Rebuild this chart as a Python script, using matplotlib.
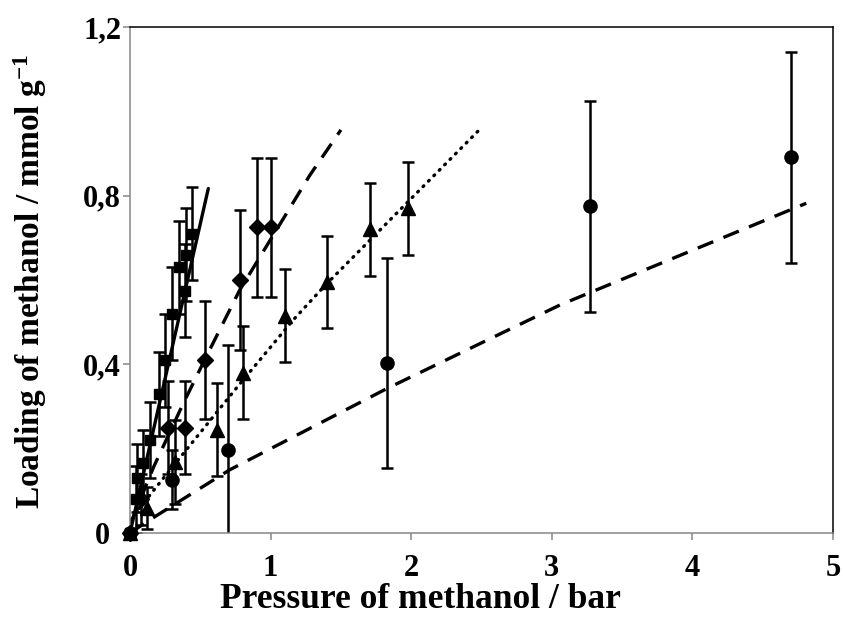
import matplotlib
matplotlib.use("Agg")
import matplotlib.pyplot as plt

# squares (solid fit)
sq_p = [0, 0.04, 0.05, 0.095, 0.14, 0.205, 0.25, 0.30, 0.345, 0.39, 0.40, 0.44]
sq_q = [0, 0.08, 0.13, 0.165, 0.22, 0.33, 0.41, 0.52, 0.63, 0.575, 0.66, 0.71]
sq_err = [0, 0.08, 0.08, 0.08, 0.09, 0.10, 0.11, 0.11, 0.11, 0.11, 0.11, 0.11]
sq_fit_p = [0, 0.557]
sq_fit_q = [0, 0.817]

# diamonds (dashed fit)
di_p = [0, 0.08, 0.27, 0.39, 0.535, 0.78, 0.90, 1.0]
di_q = [0, 0.08, 0.25, 0.25, 0.41, 0.60, 0.725, 0.725]
di_err = [0, 0.06, 0.11, 0.11, 0.14, 0.165, 0.165, 0.165]
di_fit_p = [0, 0.17, 0.38, 0.53, 0.78, 1.28, 1.50]
di_fit_q = [0.02, 0.158, 0.308, 0.41, 0.576, 0.849, 0.956]

# triangles (dotted fit)
tr_p = [0, 0.12, 0.32, 0.62, 0.805, 1.10, 1.40, 1.71, 1.98]
tr_q = [0, 0.06, 0.168, 0.245, 0.38, 0.515, 0.595, 0.72, 0.77]
tr_err = [0, 0.05, 0.10, 0.11, 0.11, 0.11, 0.11, 0.11, 0.11]
tr_fit_p = [0, 0.17, 0.40, 0.76, 1.16, 1.39, 2.49]
tr_fit_q = [0.03, 0.102, 0.197, 0.345, 0.505, 0.588, 0.958]

# circles (dashed fit)
ci_p = [0, 0.30, 0.70, 1.83, 3.27, 4.70]
ci_q = [0, 0.126, 0.197, 0.403, 0.775, 0.891]
ci_err = [0, 0.07, 0.25, 0.25, 0.25, 0.25]
ci_fit_p = [0, 0.14, 0.71, 1.83, 3.06, 4.81]
ci_fit_q = [0, 0.031, 0.150, 0.343, 0.541, 0.782]

xticks = [0, 1, 2, 3, 4, 5]
yticks = [0, 0.4, 0.8, 1.2]
ytick_labels = ["0", "0,4", "0,8", "1,2"]

plt.rcParams["font.family"] = ["Liberation Serif", "DejaVu Serif"]
plt.rcParams["font.weight"] = "bold"
plt.rcParams["mathtext.fontset"] = "custom"
plt.rcParams["mathtext.rm"] = "Liberation Serif:bold"
plt.rcParams["mathtext.bf"] = "Liberation Serif:bold"
plt.rcParams["mathtext.it"] = "Liberation Serif:bold"

fig = plt.figure(figsize=(8.43, 6.28), dpi=100)
ax = fig.add_axes([130 / 843, 95 / 628, 703 / 843, 506 / 628])

dash = (0, (5, 3.3))
ax.plot(sq_fit_p, sq_fit_q, color="black", lw=2.4, solid_capstyle="round")
ax.plot(di_fit_p, di_fit_q, color="black", lw=2.4, linestyle=dash)
ax.plot(tr_fit_p, tr_fit_q, color="black", lw=2.4, linestyle=(0, (0.3, 2.0)),
        dash_capstyle="round")
ax.plot(ci_fit_p, ci_fit_q, color="black", lw=2.4, linestyle=dash)

series = [
    (sq_p, sq_q, sq_err, "s", 7.5),
    (di_p, di_q, di_err, "D", 8),
    (tr_p, tr_q, tr_err, "^", 10),
    (ci_p, ci_q, ci_err, "o", 9.5),
]
for p, q, err, mk, ms in series:
    ax.errorbar(p, q, yerr=err, fmt="none", ecolor="black", elinewidth=1.8,
                capsize=4.5, capthick=1.8)
    ax.plot(p, q, linestyle="none", marker=mk, markersize=ms, color="black",
            clip_on=False, zorder=3)

ax.set_xlim(0, 5)
ax.set_ylim(0, 1.2)
ax.set_xticks(xticks)
ax.set_xticklabels([str(t) for t in xticks])
ax.set_yticks(yticks)
ax.set_yticklabels(ytick_labels, ha="center")
ax.tick_params(axis="both", direction="out", length=5, width=1.1, color="#868686",
               labelsize=22)
ax.tick_params(axis="x", pad=10)
ax.tick_params(axis="y", pad=15)

ax.spines["left"].set_color("#868686")
ax.spines["bottom"].set_color("#868686")
ax.spines["top"].set_color("black")
ax.spines["right"].set_color("black")
for s in ax.spines.values():
    s.set_linewidth(1.1)

fig.text(420 / 843, 1 - 599 / 628, "Pressure of methanol / bar", ha="center", va="center",
         fontsize=25.5, fontweight="bold")
fig.text(30 / 843, 1 - 281 / 628, r"Loading of methanol / mmol g$^{\mathrm{-1}}$",
         ha="center", va="center", rotation=90, fontsize=24, fontweight="bold")

fig.savefig("out.png", dpi=100)
